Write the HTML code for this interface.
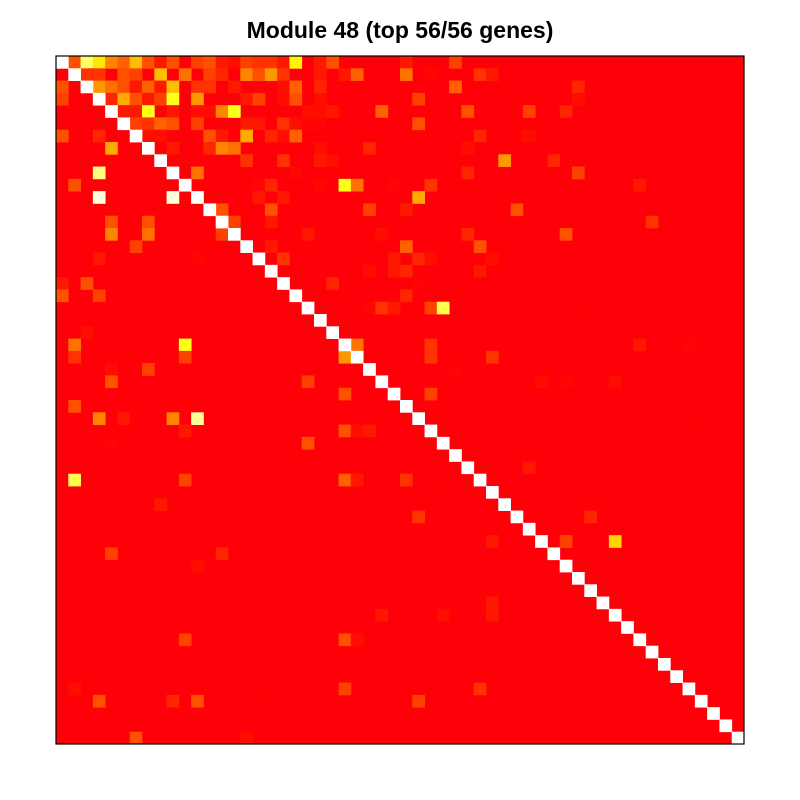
<!DOCTYPE html>
<html><head><meta charset="utf-8"><style>
html,body{margin:0;padding:0;background:#fff;}
svg{display:block;}
</style></head><body>
<svg id="chart" width="800" height="800" viewBox="0 0 800 800" xmlns="http://www.w3.org/2000/svg">
<text x="400" y="38" text-anchor="middle" font-family="Liberation Sans, sans-serif" font-weight="bold" font-size="23">Module 48 (top 56/56 genes)</text>
<g id="cells"></g>
<rect x="56" y="56" width="688" height="688" fill="none" stroke="#000" stroke-width="1.2"/>
</svg>
<script>
const nGenes = 56;
const cellRows = [0,0,0,0,0,0,0,0,0,0,0,0,0,0,0,0,0,0,0,0,0,
1,1,1,1,1,1,1,1,1,1,1,1,1,1,1,1,
2,2,2,2,2,2,2,2,2,2,2,2,2,2,
3,3,3,3,3,3,3,3,3,3,3,3,3,3,
4,4,4,4,4,4,4,4,4,4,4,4,
5,5,5,5,5,5,5,5,5,5,5,5,
6,6,6,6,6,6,6,6,6,6,
7,7,7,7,7,7,7,
8,8,8,8,9,9,9,
10,10,10,10,10,10,10,
11,11,11,11,12,12,12,13,13,13,13,14,14,14,14,14,
15,15,16,16,16,16,17,17,18,18,18,19,19,20,20,20,22,23,23,23,24,24,24,25,25,26,26,27,
0,0,1,1,1,1,2,2,3,3,4,4,4,5,6,6,6,7,8,8,9,9,10,10,11,12,12,12,13,14,14,15,15,16,16,16,17,17,18,19,20,20,20,23,23,23,24,24,25,26,26,26,27,
28,29,29,29,29,30,30,30,30,31,31,34,34,34,34,36,40,40,41,45,47,47,47,51,51,52,52,52,52,55,55,
29,33,34,35,37,37,39,39,39,44,45,45,51,52];
const cellCols = [1,2,3,4,5,6,7,8,9,11,12,13,14,15,16,17,18,19,21,22,0,
2,3,5,6,8,10,12,13,15,16,17,18,21,23,24,0,
0,3,4,5,6,7,8,9,11,12,14,18,19,21,
0,4,5,6,7,8,9,11,15,16,18,19,21,22,
5,6,7,9,11,12,13,14,20,21,22,26,
6,7,8,9,11,15,16,18,19,20,21,0,
0,3,7,8,12,13,15,17,18,19,
4,9,12,13,14,21,25,
15,18,21,22,3,11,19,
1,16,17,21,23,24,27,
3,9,16,18,13,17,25,4,7,14,17,4,7,13,20,26,
6,17,3,11,18,27,25,27,0,2,22,0,3,25,26,27,2,1,10,24,1,10,23,4,7,4,20,23,
28,32,28,30,34,35,32,42,29,42,33,38,41,29,34,37,38,33,36,40,33,42,30,47,29,28,37,43,48,33,41,28,34,29,30,35,28,34,29,28,30,31,43,30,47,51,30,35,32,39,41,45,30,
1,3,5,9,11,10,23,24,25,4,20,1,10,23,24,8,4,13,11,26,10,23,24,1,23,3,9,11,16,6,15,
52,38,28,31,29,43,35,41,45,35,31,35,34,29];
const cellVals = [0.35,0.88,0.75,0.5,0.4,0.65,0.35,0.15,0.35,0.3,0.35,0.15,0.1,0.3,0.25,0.25,0.15,0.78,0.15,0.35,0,
0.25,0.25,0.35,0.3,0.65,0.45,0.3,0.2,0.5,0.35,0.55,0.25,0.15,0.15,0.4,0,
0.35,0.55,0.45,0.35,0.15,0.4,0.15,0.65,0.25,0.25,0.15,0.1,0.4,0.2,
0.3,0.2,0.6,0.35,0.15,0.3,0.82,0.55,0.15,0.3,0.1,0.35,0.1,0,
0.15,0.15,0.82,0.15,0.1,0.1,0.5,0.82,0.1,0.1,0.15,0.4,
0.3,0.25,0.4,0.35,0.3,0.15,0.15,0.25,0.1,0.05,0.05,0,
0.35,0.2,0.1,0.1,0.35,0.15,0.6,0.2,0.1,0.4,
0.6,0.15,0.2,0.5,0.45,0.1,0.2,
0.25,0.25,0.15,0.1,0.9,0.45,0.05,
0.35,0.05,0.2,0.05,0.82,0.45,0.05,
0.97,0.97,0.15,0.15,0.35,0.35,0.3,0.35,0.35,0.3,0.15,0.5,0.45,0.3,0.15,0.1,
0.3,0.15,0.15,0.05,0.25,0.15,0.1,0.15,0.15,0.35,0.2,0.35,0.3,0.05,0.25,0.15,0.1,0.45,0.82,0.45,0.25,0.3,0.55,0.1,0.3,0.35,0.3,0.35,
0.15,0.3,0.45,0.05,0.25,0.15,0.4,0.2,0.3,0.1,0.35,0.3,0.2,0.35,0.2,0.02,0.1,0.1,0.55,0.2,0.2,0.3,0.25,0.15,0.6,0.15,0.35,0.02,0.25,0.2,0.35,0.4,0.35,0.2,0.1,0.1,0.2,0.15,0.03,0.2,0.3,0.86,0.02,0.25,0.15,0.03,0.25,0.25,0.03,0.1,0.05,0.1,0.3,
0.35,0.5,0.15,0.5,0.92,0.15,0.35,0.1,0.15,0.03,0.35,0.86,0.3,0.4,0.15,0.15,0.3,0.2,0.1,0.15,0.3,0.35,0.1,0.1,0.3,0.35,0.2,0.35,0.02,0.35,0.1,
0.02,0.15,0.25,0.02,0.25,0.2,0.15,0.3,0.7,0.15,0.1,0.15,0.25,0.3];

const x0 = 56, y0 = 56, size = 688;
const cs = size / nGenes;
function xPos(c){ return x0 + c * cs; }
function yPos(r){ return y0 + r * cs; }
function heat(v){
  if (v >= 1) return '#ffffff';
  if (v <= 0) return 'rgb(253,0,8)';
  const g = Math.round(Math.pow(Math.min(1, v / 0.8), 1.4) * 255);
  const b = Math.round(v > 0.8 ? (v - 0.8) / 0.2 * 255 : Math.max(0, 8 * (1 - v / 0.1)));
  return 'rgb(255,' + g + ',' + b + ')';
}
const NS = 'http://www.w3.org/2000/svg';
const g = document.getElementById('cells');
const bg = document.createElementNS(NS, 'rect');
bg.setAttribute('x', x0); bg.setAttribute('y', y0);
bg.setAttribute('width', size); bg.setAttribute('height', size);
bg.setAttribute('fill', heat(0));


g.appendChild(bg);
function addCell(r, c, v){
  const el = document.createElementNS(NS, 'rect');
  el.setAttribute('x', xPos(c).toFixed(2));
  el.setAttribute('y', yPos(r).toFixed(2));
  el.setAttribute('width', (cs + 0.4).toFixed(2));
  el.setAttribute('height', (cs + 0.4).toFixed(2));
  el.setAttribute('fill', heat(v));
  
  
  g.appendChild(el);
}
for (let i = 0; i < cellRows.length; i++) addCell(cellRows[i], cellCols[i], cellVals[i]);
for (let i = 0; i < nGenes; i++) addCell(i, i, 1);
</script>
</body></html>
